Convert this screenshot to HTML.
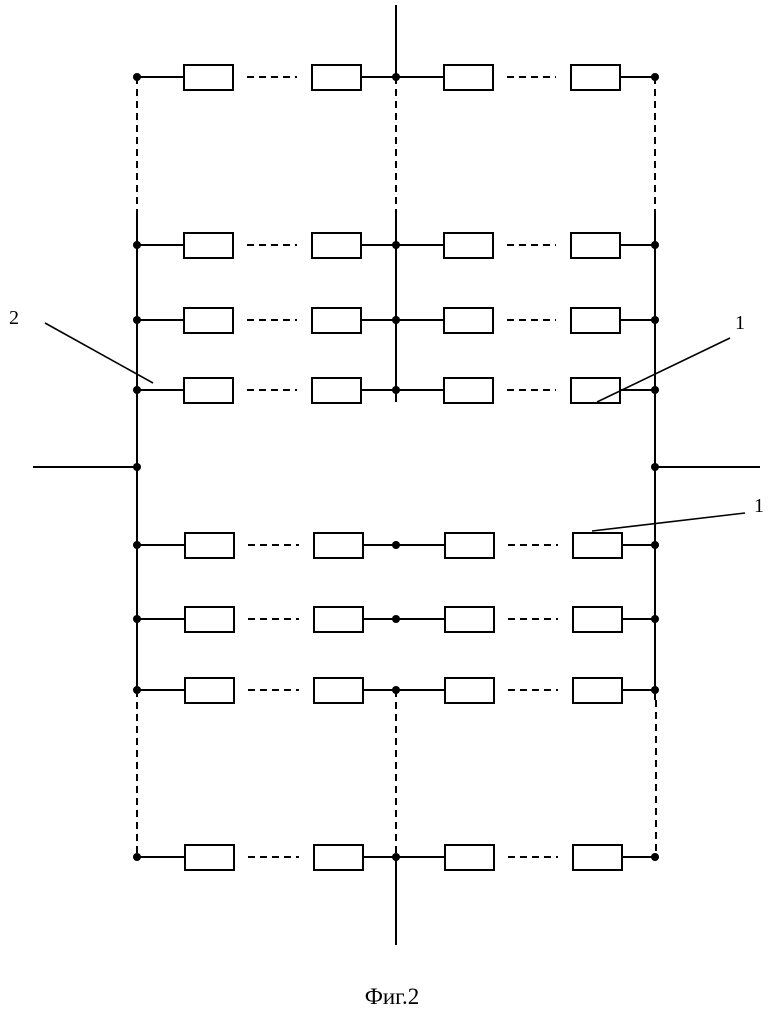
<!DOCTYPE html>
<html><head><meta charset="utf-8"><style>body{margin:0;background:#fff}</style></head><body>
<svg width="780" height="1021" xmlns="http://www.w3.org/2000/svg" style="display:block">
<g stroke="#000" stroke-width="2" fill="none">
<line x1="396" y1="5" x2="396" y2="77"/>
<line x1="396" y1="77" x2="396" y2="215" stroke-dasharray="7,5"/>
<line x1="396" y1="215" x2="396" y2="402"/>
<line x1="137" y1="77" x2="137" y2="212" stroke-dasharray="7,5"/>
<line x1="137" y1="212" x2="137" y2="690"/>
<line x1="137" y1="690" x2="137" y2="857" stroke-dasharray="7,5"/>
<line x1="655" y1="77" x2="655" y2="212" stroke-dasharray="7,5"/>
<line x1="655" y1="212" x2="655" y2="700"/>
<line x1="656" y1="700" x2="656" y2="857" stroke-dasharray="7,5"/>
<line x1="396" y1="690" x2="396" y2="857" stroke-dasharray="7,5"/>
<line x1="396" y1="857" x2="396" y2="945"/>
<line x1="33" y1="467" x2="137" y2="467"/>
<line x1="655" y1="467" x2="760" y2="467"/>
</g>
<g id="rows" stroke="#000" stroke-width="2" fill="#fff"></g>
<g stroke="#000" stroke-width="1.6">
<line x1="45" y1="323" x2="153" y2="383"/>
<line x1="730" y1="338" x2="597" y2="402"/>
<line x1="745" y1="513" x2="592" y2="531"/>
</g>
<text x="14" y="324" font-family="Liberation Serif, serif" font-size="20" text-anchor="middle">2</text>
<text x="740" y="329" font-family="Liberation Serif, serif" font-size="20" text-anchor="middle">1</text>
<text x="759" y="512" font-family="Liberation Serif, serif" font-size="20" text-anchor="middle">1</text>
<text x="392" y="1004" font-family="Liberation Serif, serif" font-size="23" text-anchor="middle">Фиг.2</text>
</svg>
<script>
var ys=[77,245,320,390,545,619,690,857];
var g=document.getElementById('rows'),s='';
ys.forEach(function(y,i){
 var b=i<4?[184,312,444,571]:[185,314,445,573];
 s+='<line x1="137" y1="'+y+'" x2="'+b[0]+'" y2="'+y+'"/>';
 s+='<line x1="'+(b[1]+49)+'" y1="'+y+'" x2="'+b[2]+'" y2="'+y+'"/>';
 s+='<line x1="'+(b[3]+49)+'" y1="'+y+'" x2="655" y2="'+y+'"/>';
 s+='<line x1="'+(b[0]+63)+'" y1="'+y+'" x2="'+(b[1]-15)+'" y2="'+y+'" stroke-dasharray="7,5"/>';
 s+='<line x1="'+(b[2]+63)+'" y1="'+y+'" x2="'+(b[3]-15)+'" y2="'+y+'" stroke-dasharray="7,5"/>';
 b.forEach(function(x){s+='<rect x="'+x+'" y="'+(y-12)+'" width="49" height="25"/>';});
 [137,396,655].forEach(function(x){s+='<circle cx="'+x+'" cy="'+y+'" r="4" fill="#000" stroke="none"/>';});
});
s+='<circle cx="137" cy="467" r="4" fill="#000" stroke="none"/><circle cx="655" cy="467" r="4" fill="#000" stroke="none"/>';
g.innerHTML=s;
</script>
</body></html>
